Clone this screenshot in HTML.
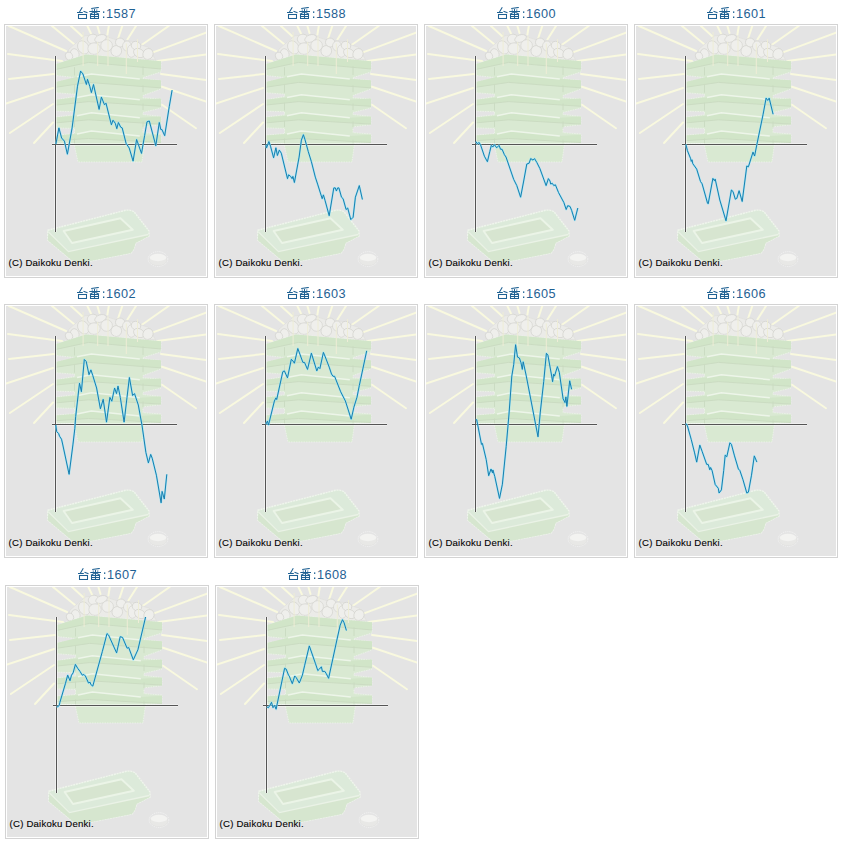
<!DOCTYPE html>
<html><head><meta charset="utf-8"><style>
html,body{margin:0;padding:0;background:#fff;width:842px;height:843px;overflow:hidden;position:relative}
.cell{position:absolute;width:202px;height:252px;border:1px solid #d3d3d3;background:#fff}
.cell svg{position:absolute;left:1px;top:1px;display:block}
.cp{font-family:"Liberation Sans",sans-serif;font-size:9.6px;fill:#000;stroke:#000;stroke-width:0.1px}
.lbl{position:absolute;height:14px;width:70px;font-family:"Liberation Sans",sans-serif;font-size:12.7px;color:#1f6193;line-height:14px;white-space:nowrap}
.lbl svg{position:absolute;left:0;top:0}
.lbl span{position:absolute;left:29px;top:-0.5px;letter-spacing:0.45px}
</style></head><body>
<svg width="0" height="0" style="position:absolute"><symbol id="bg" viewBox="0 0 200 250">
<rect width="200" height="250" fill="#e4e4e4"/>
<g stroke="#f9f9df" stroke-width="2" stroke-linecap="round"><line x1="3" y1="0" x2="60" y2="25"/><line x1="2" y1="28" x2="56" y2="35"/><line x1="3" y1="53" x2="48" y2="48"/><line x1="0" y1="77.5" x2="47" y2="62"/><line x1="3.8" y1="107" x2="47" y2="78"/><line x1="28" y1="117" x2="47" y2="96.5"/><line x1="46" y1="0" x2="68" y2="18"/><line x1="65" y1="0" x2="76" y2="10"/><line x1="81.4" y1="0" x2="85.7" y2="9"/><line x1="91.4" y1="0" x2="93.5" y2="7"/><line x1="102.8" y1="0" x2="101.4" y2="8.5"/><line x1="116.3" y1="0" x2="112" y2="12.8"/><line x1="130" y1="0" x2="121.4" y2="13.5"/><line x1="162.7" y1="0" x2="135.6" y2="19"/><line x1="200" y1="6.6" x2="147" y2="26.4"/><line x1="200" y1="28.5" x2="151.4" y2="35"/><line x1="200" y1="54" x2="155" y2="48"/><line x1="200" y1="75.6" x2="156" y2="60.7"/><line x1="190" y1="102.3" x2="156" y2="78.8"/></g>
<path d="M59.7,33 L60,31.4 L63,23 L68.8,18.1 L78.8,9.8 L87,9 L96.2,9 L108,13.1 L114,14.7 L125.9,15.3 L136.6,19.4 L142.5,21.2 L145.5,26.6 L149.6,33.7 Z" fill="#ebebe8" stroke="#e0e0dc" stroke-width="0.8"/>
<g fill="#efefec" stroke="#d0d0cb" stroke-width="0.6"><ellipse cx="68.8" cy="27.9" rx="4.2" ry="5.3" transform="rotate(-20 68.8 27.9)"/><ellipse cx="77.3" cy="21.4" rx="5.3" ry="7" transform="rotate(-30 77.3 21.4)"/><ellipse cx="86.6" cy="13" rx="5.3" ry="4.8" transform="rotate(-10 86.6 13)"/><ellipse cx="88" cy="22.6" rx="6.2" ry="5.8" transform="rotate(0 88 22.6)"/><ellipse cx="94.5" cy="12.5" rx="6" ry="3.6" transform="rotate(-20 94.5 12.5)"/><ellipse cx="100.6" cy="19.5" rx="5.8" ry="5.8" transform="rotate(0 100.6 19.5)"/><ellipse cx="110.3" cy="25" rx="5.3" ry="5.5" transform="rotate(20 110.3 25)"/><ellipse cx="114.2" cy="16.5" rx="4.8" ry="4.4" transform="rotate(20 114.2 16.5)"/><ellipse cx="121" cy="20" rx="4.5" ry="5" transform="rotate(0 121 20)"/><ellipse cx="125.4" cy="25" rx="4.2" ry="6.3" transform="rotate(0 125.4 25)"/><ellipse cx="130" cy="19.6" rx="4.8" ry="4.2" transform="rotate(20 130 19.6)"/><ellipse cx="133" cy="27" rx="5.8" ry="4.2" transform="rotate(30 133 27)"/><ellipse cx="142" cy="28" rx="5" ry="5.6" transform="rotate(30 142 28)"/><ellipse cx="63" cy="30" rx="3.5" ry="4" transform="rotate(-20 63 30)"/></g>
<path d="M49.5,38.2 L80,28.5 L155,35.3 L155,46 L137,51.6 L137,52.5 L155,54.6 L155,62.9 L137,69.6 L137,71.8 L155,72.8 L155,82.1 L137,86.4 L137,88.5 L155,90.4 L155,98.7 L137,100.9 L137,106.6 L155,108 L155,116.5 L138.5,117.5 L136,136 L72,136 L68,117.5 L49.5,117.7 L49.5,109.2 L68.5,107.6 L68.5,102.4 L49.5,101.9 L49.5,90.9 L68.5,88.8 L68.5,85.7 L49.5,85.1 L49.5,73.8 L68.5,70.5 L68.5,68.2 L49.5,66.7 L49.5,56 L68.5,52.5 L68.5,51.5 L49.5,49.5 Z" fill="#d9e9d2" stroke="#eef4eb" stroke-width="0.8" stroke-dasharray="1.5 1"/>
<g fill="#d1e5c8"><polygon points="49.5,38.2 80,28.5 155,35.3 155,43.0 82.5,36.4 49.5,43.5"/><polygon points="49.5,56 71,50.8 85.3,47.9 133.8,52.9 155,54.2 155,61.9 82.5,56.4 49.5,61.3"/><polygon points="49.5,73.8 71,71.6 85.3,68.7 133.8,73.7 155,72.6 155,80.3 82.5,75.6 49.5,79.1"/><polygon points="49.5,91.6 71,89.7 85.3,86.8 133.8,91.8 155,90.4 155,98.1 82.5,93.8 49.5,96.9"/><polygon points="49.5,109.4 71,107.9 85.3,105 133.8,110 155,108.8 155,116.5 82.5,112.5 49.5,114.7"/></g>
<g fill="none" stroke="#c9dac1" stroke-width="0.9"><polyline points="49.5,43.5 82.5,36.4 155,43.0"/><line x1="68.5" y1="41.2" x2="68.5" y2="49.5"/><line x1="137" y1="40.3" x2="137" y2="49"/><polyline points="49.5,61.3 82.5,56.4 155,61.9"/><line x1="68.5" y1="59" x2="68.5" y2="66.7"/><line x1="137" y1="59.2" x2="137" y2="66.1"/><polyline points="49.5,79.1 82.5,75.6 155,80.3"/><line x1="68.5" y1="76.8" x2="68.5" y2="84.5"/><line x1="137" y1="77.6" x2="137" y2="84"/><polyline points="49.5,96.9 82.5,93.8 155,98.1"/><line x1="68.5" y1="94.6" x2="68.5" y2="101"/><line x1="137" y1="95.4" x2="137" y2="101.7"/><polyline points="49.5,114.7 82.5,112.5 155,116.5"/><line x1="68.5" y1="112.4" x2="68.5" y2="117.7"/><line x1="137" y1="113.8" x2="137" y2="119.5"/></g>
<g fill="none" stroke="#edf5e9" stroke-width="1.5"><polyline points="71,50.8 85.3,47.9 133.8,52.9"/><polyline points="71,71.6 85.3,68.7 133.8,73.7"/><polyline points="71,89.7 85.3,86.8 133.8,91.8"/><polyline points="71,107.9 85.3,105 133.8,110"/></g>
<g stroke="#eeedd6" stroke-width="1"><line x1="77.1" y1="6" x2="77.1" y2="40"/><line x1="91.7" y1="16" x2="91.7" y2="40"/><line x1="102" y1="10" x2="102" y2="40"/><line x1="120.3" y1="17.5" x2="120.3" y2="48"/><line x1="131.5" y1="13" x2="131.5" y2="36"/></g>
<path d="M41.8,204.2 L119.5,184.3 Q124,183.5 128,185.7 L143,205 L143,210 L129.5,217 L128,222.8 L125,227 L74,237 L65.4,234 L41.8,214.2 Z" fill="#dceada" stroke="#eff5ec" stroke-width="1.4" stroke-dasharray="2 0.8"/>
<polygon points="57.6,205 114.5,192.3 126.8,203.8 66,217" fill="#d7e5d0" stroke="#ebf4e7" stroke-width="1.9" stroke-linejoin="round"/>
<polygon points="42.5,206 62.5,225.6 142.3,208.5 143,210 129.5,217 128,222.8 125,227 74,237 65.4,234 41.8,214.2" fill="#d6e6cf"/><polyline points="42.5,206 62.5,225.6 142.3,208.5" fill="none" stroke="#eaf2e6" stroke-width="1.3"/>

<ellipse cx="152" cy="233" rx="9.8" ry="7.4" fill="none" stroke="#f3f3f3" stroke-width="0.9" stroke-dasharray="1.3 0.9"/><ellipse cx="152" cy="234.3" rx="8.8" ry="5.3" fill="#e8e8e6" stroke="#e0e0de" stroke-width="0.5"/><ellipse cx="152" cy="231.5" rx="8.3" ry="3.7" fill="#f3f3f1"/>
</symbol><symbol id="kj" viewBox="0 0 28 12">
<g fill="none" stroke="#1f6193" stroke-width="1.05">
<path d="M5.3,0.3 L2.2,5.5 M0,5.5 H5.8 M6.5,4.2 L10.5,5.8"/>
<rect x="1.5" y="7.5" width="8" height="4"/>
<path d="M14.2,1.5 L21.8,0.4 M12.3,4.5 H23 M14.8,2.6 L15.6,3.5 M20.2,2.6 L19.4,3.5 M17.5,1.2 V7 M17.5,4.6 L13,7.2 M17.5,4.6 L22,7.2"/>
<rect x="13.5" y="7.5" width="8" height="4"/>
<path d="M13.5,9.5 H21.5 M17.5,7.5 V11.5"/>
</g>
<g fill="#1f6193"><rect x="26" y="4.4" width="1.3" height="1.5"/><rect x="26" y="9.5" width="1.3" height="1.5"/></g>
</symbol></svg>
<div class="cell" style="left:4px;top:24px"><svg width="200" height="250" viewBox="0 0 200 250">
<use href="#bg"/>
<g stroke="#fff" stroke-opacity="0.45" stroke-width="3"><line x1="49.5" y1="30" x2="49.5" y2="206"/><line x1="46" y1="118.5" x2="171" y2="118.5"/></g>
<g stroke="#555" stroke-width="1"><line x1="49.5" y1="30" x2="49.5" y2="206"/><line x1="46" y1="118.5" x2="171" y2="118.5"/></g>
<polyline points="49.9,118.1 52.9,101.9 55.6,112.0 58.4,115.1 61.4,128.2 66.1,101.9 71.5,60.2 74.6,45.1 76.9,47.9 80.4,58.5 81.5,53.3 83.8,60.4 85.4,66.6 87.5,58.5 93.1,83.4 95.4,71.1 98.5,78.8 100.0,77.2 105.4,98.8 107.0,94.2 109.3,97.3 110.8,102.7 112.4,96.5 114.7,101.2 116.2,101.9 120.1,117.4 123.2,122.0 127.1,135.1 130.6,113.5 135.5,127.4 138.6,109.7 141.0,95.8 143.3,95.0 149.8,119.7 153.3,96.5 154.8,103.5 155.9,103.5 158.7,109.7 163.3,80.3 166.1,64.1" fill="none" stroke="#8fe6fc" stroke-opacity="0.75" stroke-width="2" stroke-linejoin="round"/>
<polyline points="49.9,118.1 52.9,101.9 55.6,112.0 58.4,115.1 61.4,128.2 66.1,101.9 71.5,60.2 74.6,45.1 76.9,47.9 80.4,58.5 81.5,53.3 83.8,60.4 85.4,66.6 87.5,58.5 93.1,83.4 95.4,71.1 98.5,78.8 100.0,77.2 105.4,98.8 107.0,94.2 109.3,97.3 110.8,102.7 112.4,96.5 114.7,101.2 116.2,101.9 120.1,117.4 123.2,122.0 127.1,135.1 130.6,113.5 135.5,127.4 138.6,109.7 141.0,95.8 143.3,95.0 149.8,119.7 153.3,96.5 154.8,103.5 155.9,103.5 158.7,109.7 163.3,80.3 166.1,64.1" fill="none" stroke="#187eae" stroke-width="1" stroke-linejoin="round"/>
<text x="2.6" y="239.7" class="cp" textLength="84" lengthAdjust="spacing">(C) Daikoku Denki.</text>
</svg></div>
<div class="lbl" style="left:77px;top:7px"><svg width="28" height="12" viewBox="0 0 28 12"><use href="#kj"/></svg><span>1587</span></div>
<div class="cell" style="left:214px;top:24px"><svg width="200" height="250" viewBox="0 0 200 250">
<use href="#bg"/>
<g stroke="#fff" stroke-opacity="0.45" stroke-width="3"><line x1="49.5" y1="30" x2="49.5" y2="206"/><line x1="46" y1="118.5" x2="171" y2="118.5"/></g>
<g stroke="#555" stroke-width="1"><line x1="49.5" y1="30" x2="49.5" y2="206"/><line x1="46" y1="118.5" x2="171" y2="118.5"/></g>
<polyline points="49.9,118.7 50.6,121.8 52.9,115.6 54.5,120.2 57.6,131.8 59.9,121.8 61.4,129.5 63.3,124.1 65.3,127.2 71.5,152.7 72.6,148.8 74.6,150.4 76.1,152.7 76.9,150.4 78.4,156.5 83.1,131.1 85.4,114.1 87.4,108.7 88.9,113.3 92.3,125.7 95.4,135.7 99.3,151.1 101.6,158.1 106.2,172.7 107.4,168.9 109.0,174.3 113.2,189.7 117.8,161.9 119.3,161.9 120.4,165.0 121.7,161.9 122.9,161.9 125.5,171.2 127.1,172.7 130.1,183.5 131.7,182.0 134.8,193.6 137.1,191.3 139.4,171.2 143.3,159.6 146.4,173.5" fill="none" stroke="#8fe6fc" stroke-opacity="0.75" stroke-width="2" stroke-linejoin="round"/>
<polyline points="49.9,118.7 50.6,121.8 52.9,115.6 54.5,120.2 57.6,131.8 59.9,121.8 61.4,129.5 63.3,124.1 65.3,127.2 71.5,152.7 72.6,148.8 74.6,150.4 76.1,152.7 76.9,150.4 78.4,156.5 83.1,131.1 85.4,114.1 87.4,108.7 88.9,113.3 92.3,125.7 95.4,135.7 99.3,151.1 101.6,158.1 106.2,172.7 107.4,168.9 109.0,174.3 113.2,189.7 117.8,161.9 119.3,161.9 120.4,165.0 121.7,161.9 122.9,161.9 125.5,171.2 127.1,172.7 130.1,183.5 131.7,182.0 134.8,193.6 137.1,191.3 139.4,171.2 143.3,159.6 146.4,173.5" fill="none" stroke="#187eae" stroke-width="1" stroke-linejoin="round"/>
<text x="2.6" y="239.7" class="cp" textLength="84" lengthAdjust="spacing">(C) Daikoku Denki.</text>
</svg></div>
<div class="lbl" style="left:287px;top:7px"><svg width="28" height="12" viewBox="0 0 28 12"><use href="#kj"/></svg><span>1588</span></div>
<div class="cell" style="left:424px;top:24px"><svg width="200" height="250" viewBox="0 0 200 250">
<use href="#bg"/>
<g stroke="#fff" stroke-opacity="0.45" stroke-width="3"><line x1="49.5" y1="30" x2="49.5" y2="206"/><line x1="46" y1="118.5" x2="171" y2="118.5"/></g>
<g stroke="#555" stroke-width="1"><line x1="49.5" y1="30" x2="49.5" y2="206"/><line x1="46" y1="118.5" x2="171" y2="118.5"/></g>
<polyline points="49.9,115.6 51.4,117.9 52.9,116.4 54.5,118.7 58.4,130.2 61.4,135.7 63.8,125.6 65.3,119.4 66.8,121.0 68.4,118.7 70.7,121.8 73.0,119.4 74.6,123.3 76.1,123.3 78.4,128.7 80.0,131.0 87.7,153.4 90.8,159.6 94.6,171.2 97.7,155.0 100.8,138.0 103.1,137.2 104.7,132.6 107.0,134.1 108.5,132.6 110.8,136.4 113.9,142.6 120.1,159.6 122.4,152.6 124.0,155.0 124.7,158.0 126.3,157.3 127.8,159.6 129.4,158.8 132.5,166.5 137.9,176.6 140.2,183.5 141.7,179.7 144.0,180.4 145.6,184.3 148.7,194.3 151.8,182.0" fill="none" stroke="#8fe6fc" stroke-opacity="0.75" stroke-width="2" stroke-linejoin="round"/>
<polyline points="49.9,115.6 51.4,117.9 52.9,116.4 54.5,118.7 58.4,130.2 61.4,135.7 63.8,125.6 65.3,119.4 66.8,121.0 68.4,118.7 70.7,121.8 73.0,119.4 74.6,123.3 76.1,123.3 78.4,128.7 80.0,131.0 87.7,153.4 90.8,159.6 94.6,171.2 97.7,155.0 100.8,138.0 103.1,137.2 104.7,132.6 107.0,134.1 108.5,132.6 110.8,136.4 113.9,142.6 120.1,159.6 122.4,152.6 124.0,155.0 124.7,158.0 126.3,157.3 127.8,159.6 129.4,158.8 132.5,166.5 137.9,176.6 140.2,183.5 141.7,179.7 144.0,180.4 145.6,184.3 148.7,194.3 151.8,182.0" fill="none" stroke="#187eae" stroke-width="1" stroke-linejoin="round"/>
<text x="2.6" y="239.7" class="cp" textLength="84" lengthAdjust="spacing">(C) Daikoku Denki.</text>
</svg></div>
<div class="lbl" style="left:497px;top:7px"><svg width="28" height="12" viewBox="0 0 28 12"><use href="#kj"/></svg><span>1600</span></div>
<div class="cell" style="left:634px;top:24px"><svg width="200" height="250" viewBox="0 0 200 250">
<use href="#bg"/>
<g stroke="#fff" stroke-opacity="0.45" stroke-width="3"><line x1="49.5" y1="30" x2="49.5" y2="206"/><line x1="46" y1="118.5" x2="171" y2="118.5"/></g>
<g stroke="#555" stroke-width="1"><line x1="49.5" y1="30" x2="49.5" y2="206"/><line x1="46" y1="118.5" x2="171" y2="118.5"/></g>
<polyline points="49.9,118.4 51.4,124.6 54.5,132.3 55.3,135.4 56.0,133.8 56.8,137.7 60.7,143.1 64.5,155.5 66.1,157.8 71.5,177.1 72.2,177.8 76.9,152.4 78.4,154.7 79.2,153.1 83.8,174.0 90.0,194.8 95.4,164.0 97.0,165.5 99.3,173.2 100.8,172.4 103.1,164.7 106.2,175.5 110.8,140.0 112.4,140.8 117.0,126.1 118.6,130.0 120.9,118.4 127.1,88.3 130.1,72.1 131.7,74.4 133.2,72.1 137.1,88.3" fill="none" stroke="#8fe6fc" stroke-opacity="0.75" stroke-width="2" stroke-linejoin="round"/>
<polyline points="49.9,118.4 51.4,124.6 54.5,132.3 55.3,135.4 56.0,133.8 56.8,137.7 60.7,143.1 64.5,155.5 66.1,157.8 71.5,177.1 72.2,177.8 76.9,152.4 78.4,154.7 79.2,153.1 83.8,174.0 90.0,194.8 95.4,164.0 97.0,165.5 99.3,173.2 100.8,172.4 103.1,164.7 106.2,175.5 110.8,140.0 112.4,140.8 117.0,126.1 118.6,130.0 120.9,118.4 127.1,88.3 130.1,72.1 131.7,74.4 133.2,72.1 137.1,88.3" fill="none" stroke="#187eae" stroke-width="1" stroke-linejoin="round"/>
<text x="2.6" y="239.7" class="cp" textLength="84" lengthAdjust="spacing">(C) Daikoku Denki.</text>
</svg></div>
<div class="lbl" style="left:707px;top:7px"><svg width="28" height="12" viewBox="0 0 28 12"><use href="#kj"/></svg><span>1601</span></div>
<div class="cell" style="left:4px;top:304px"><svg width="200" height="250" viewBox="0 0 200 250">
<use href="#bg"/>
<g stroke="#fff" stroke-opacity="0.45" stroke-width="3"><line x1="49.5" y1="30" x2="49.5" y2="206"/><line x1="46" y1="118.5" x2="171" y2="118.5"/></g>
<g stroke="#555" stroke-width="1"><line x1="49.5" y1="30" x2="49.5" y2="206"/><line x1="46" y1="118.5" x2="171" y2="118.5"/></g>
<polyline points="49.8,119.0 50.7,125.6 52.6,127.5 53.6,130.3 55.5,133.2 56.4,137.0 63.1,168.3 66.9,138.9 68.8,122.7 69.7,110.4 73.5,77.2 75.4,85.7 78.3,53.5 80.2,55.4 83.0,68.7 84.9,63.9 86.8,69.6 90.6,82.0 94.4,102.8 97.2,93.3 100.5,116.1 103.9,91.4 105.8,95.2 108.6,82.0 110.5,87.6 112.0,80.1 114.3,91.4 118.1,116.1 121.0,91.4 123.4,71.5 126.6,89.5 128.5,87.6 132.3,99.0 136.1,119.9 139.9,146.5 142.4,156.9 144.7,148.4 146.2,152.2 150.4,169.2 155.1,196.8 156.1,185.4 158.3,193.0 160.8,168.3" fill="none" stroke="#8fe6fc" stroke-opacity="0.75" stroke-width="2" stroke-linejoin="round"/>
<polyline points="49.8,119.0 50.7,125.6 52.6,127.5 53.6,130.3 55.5,133.2 56.4,137.0 63.1,168.3 66.9,138.9 68.8,122.7 69.7,110.4 73.5,77.2 75.4,85.7 78.3,53.5 80.2,55.4 83.0,68.7 84.9,63.9 86.8,69.6 90.6,82.0 94.4,102.8 97.2,93.3 100.5,116.1 103.9,91.4 105.8,95.2 108.6,82.0 110.5,87.6 112.0,80.1 114.3,91.4 118.1,116.1 121.0,91.4 123.4,71.5 126.6,89.5 128.5,87.6 132.3,99.0 136.1,119.9 139.9,146.5 142.4,156.9 144.7,148.4 146.2,152.2 150.4,169.2 155.1,196.8 156.1,185.4 158.3,193.0 160.8,168.3" fill="none" stroke="#187eae" stroke-width="1" stroke-linejoin="round"/>
<text x="2.6" y="239.7" class="cp" textLength="84" lengthAdjust="spacing">(C) Daikoku Denki.</text>
</svg></div>
<div class="lbl" style="left:77px;top:287px"><svg width="28" height="12" viewBox="0 0 28 12"><use href="#kj"/></svg><span>1602</span></div>
<div class="cell" style="left:214px;top:304px"><svg width="200" height="250" viewBox="0 0 200 250">
<use href="#bg"/>
<g stroke="#fff" stroke-opacity="0.45" stroke-width="3"><line x1="49.5" y1="30" x2="49.5" y2="206"/><line x1="46" y1="118.5" x2="171" y2="118.5"/></g>
<g stroke="#555" stroke-width="1"><line x1="49.5" y1="30" x2="49.5" y2="206"/><line x1="46" y1="118.5" x2="171" y2="118.5"/></g>
<polyline points="49.9,118.2 51.4,115.1 52.5,119.0 58.4,95.0 59.9,91.9 60.7,93.5 66.8,65.7 68.4,64.9 71.5,71.9 75.3,53.3 76.9,54.9 78.4,57.2 81.8,42.5 86.9,56.4 88.5,56.4 91.5,63.4 95.4,47.2 100.8,64.9 102.4,61.1 103.9,62.6 107.4,46.4 109.3,51.0 113.2,61.1 115.5,68.0 117.0,70.3 118.6,70.3 124.7,85.8 129.4,95.0 135.2,113.2 137.9,101.2 141.0,91.2 143.3,79.6 150.7,44.8" fill="none" stroke="#8fe6fc" stroke-opacity="0.75" stroke-width="2" stroke-linejoin="round"/>
<polyline points="49.9,118.2 51.4,115.1 52.5,119.0 58.4,95.0 59.9,91.9 60.7,93.5 66.8,65.7 68.4,64.9 71.5,71.9 75.3,53.3 76.9,54.9 78.4,57.2 81.8,42.5 86.9,56.4 88.5,56.4 91.5,63.4 95.4,47.2 100.8,64.9 102.4,61.1 103.9,62.6 107.4,46.4 109.3,51.0 113.2,61.1 115.5,68.0 117.0,70.3 118.6,70.3 124.7,85.8 129.4,95.0 135.2,113.2 137.9,101.2 141.0,91.2 143.3,79.6 150.7,44.8" fill="none" stroke="#187eae" stroke-width="1" stroke-linejoin="round"/>
<text x="2.6" y="239.7" class="cp" textLength="84" lengthAdjust="spacing">(C) Daikoku Denki.</text>
</svg></div>
<div class="lbl" style="left:287px;top:287px"><svg width="28" height="12" viewBox="0 0 28 12"><use href="#kj"/></svg><span>1603</span></div>
<div class="cell" style="left:424px;top:304px"><svg width="200" height="250" viewBox="0 0 200 250">
<use href="#bg"/>
<g stroke="#fff" stroke-opacity="0.45" stroke-width="3"><line x1="49.5" y1="30" x2="49.5" y2="206"/><line x1="46" y1="118.5" x2="171" y2="118.5"/></g>
<g stroke="#555" stroke-width="1"><line x1="49.5" y1="30" x2="49.5" y2="206"/><line x1="46" y1="118.5" x2="171" y2="118.5"/></g>
<polyline points="49.8,113.7 50.7,113.7 55.5,138.4 56.4,137.4 60.2,153.5 62.7,169.7 65.0,163.0 66.5,166.8 66.9,164.0 68.8,170.6 73.5,192.4 76.4,178.2 80.2,140.3 83.0,108.0 85.8,70.1 87.7,58.7 89.6,38.7 91.5,51.1 93.4,52.0 95.0,56.8 96.3,63.4 97.2,55.8 100.1,69.1 112.0,130.8 114.3,106.1 117.7,75.7 120.4,47.3 121.9,49.2 125.7,70.1 126.6,75.7 127.6,68.2 128.5,70.1 131.4,60.6 133.3,66.3 137.1,92.8 139.0,96.6 139.9,90.9 140.9,100.4 143.7,74.8 145.6,83.3" fill="none" stroke="#8fe6fc" stroke-opacity="0.75" stroke-width="2" stroke-linejoin="round"/>
<polyline points="49.8,113.7 50.7,113.7 55.5,138.4 56.4,137.4 60.2,153.5 62.7,169.7 65.0,163.0 66.5,166.8 66.9,164.0 68.8,170.6 73.5,192.4 76.4,178.2 80.2,140.3 83.0,108.0 85.8,70.1 87.7,58.7 89.6,38.7 91.5,51.1 93.4,52.0 95.0,56.8 96.3,63.4 97.2,55.8 100.1,69.1 112.0,130.8 114.3,106.1 117.7,75.7 120.4,47.3 121.9,49.2 125.7,70.1 126.6,75.7 127.6,68.2 128.5,70.1 131.4,60.6 133.3,66.3 137.1,92.8 139.0,96.6 139.9,90.9 140.9,100.4 143.7,74.8 145.6,83.3" fill="none" stroke="#187eae" stroke-width="1" stroke-linejoin="round"/>
<text x="2.6" y="239.7" class="cp" textLength="84" lengthAdjust="spacing">(C) Daikoku Denki.</text>
</svg></div>
<div class="lbl" style="left:497px;top:287px"><svg width="28" height="12" viewBox="0 0 28 12"><use href="#kj"/></svg><span>1605</span></div>
<div class="cell" style="left:634px;top:304px"><svg width="200" height="250" viewBox="0 0 200 250">
<use href="#bg"/>
<g stroke="#fff" stroke-opacity="0.45" stroke-width="3"><line x1="49.5" y1="30" x2="49.5" y2="206"/><line x1="46" y1="118.5" x2="171" y2="118.5"/></g>
<g stroke="#555" stroke-width="1"><line x1="49.5" y1="30" x2="49.5" y2="206"/><line x1="46" y1="118.5" x2="171" y2="118.5"/></g>
<polyline points="49.9,117.5 51.4,119.8 55.3,133.7 58.4,146.1 60.7,156.1 63.8,139.1 66.1,145.3 70.7,158.4 72.2,158.4 73.8,163.8 74.6,161.5 76.1,164.6 79.2,178.5 82.3,182.3 83.1,187.0 85.4,183.9 87.7,164.6 89.2,149.1 90.8,150.7 93.9,136.8 95.4,138.3 98.5,149.9 102.4,163.0 103.9,164.6 107.0,173.8 110.8,187.0 112.4,186.2 115.5,169.2 118.3,149.9 120.9,156.1" fill="none" stroke="#8fe6fc" stroke-opacity="0.75" stroke-width="2" stroke-linejoin="round"/>
<polyline points="49.9,117.5 51.4,119.8 55.3,133.7 58.4,146.1 60.7,156.1 63.8,139.1 66.1,145.3 70.7,158.4 72.2,158.4 73.8,163.8 74.6,161.5 76.1,164.6 79.2,178.5 82.3,182.3 83.1,187.0 85.4,183.9 87.7,164.6 89.2,149.1 90.8,150.7 93.9,136.8 95.4,138.3 98.5,149.9 102.4,163.0 103.9,164.6 107.0,173.8 110.8,187.0 112.4,186.2 115.5,169.2 118.3,149.9 120.9,156.1" fill="none" stroke="#187eae" stroke-width="1" stroke-linejoin="round"/>
<text x="2.6" y="239.7" class="cp" textLength="84" lengthAdjust="spacing">(C) Daikoku Denki.</text>
</svg></div>
<div class="lbl" style="left:707px;top:287px"><svg width="28" height="12" viewBox="0 0 28 12"><use href="#kj"/></svg><span>1606</span></div>
<div class="cell" style="left:5px;top:585px"><svg width="200" height="250" viewBox="0 0 200 250">
<use href="#bg"/>
<g stroke="#fff" stroke-opacity="0.45" stroke-width="3"><line x1="49.5" y1="30" x2="49.5" y2="206"/><line x1="46" y1="118.5" x2="171" y2="118.5"/></g>
<g stroke="#555" stroke-width="1"><line x1="49.5" y1="30" x2="49.5" y2="206"/><line x1="46" y1="118.5" x2="171" y2="118.5"/></g>
<polyline points="49.9,119.1 50.6,119.9 52.2,118.4 52.9,115.3 58.4,96.7 60.7,88.2 63.0,93.7 64.5,88.2 66.1,85.9 68.4,77.4 70.7,81.3 73.0,84.4 75.3,88.2 76.9,87.5 78.4,89.0 81.5,96.0 83.1,95.2 83.8,97.5 85.8,99.1 95.4,64.3 100.0,46.6 101.6,48.1 109.6,65.9 113.2,49.7 115.5,50.4 120.1,61.2 121.7,60.5 126.3,72.8 130.9,62.8 138.6,30.0" fill="none" stroke="#8fe6fc" stroke-opacity="0.75" stroke-width="2" stroke-linejoin="round"/>
<polyline points="49.9,119.1 50.6,119.9 52.2,118.4 52.9,115.3 58.4,96.7 60.7,88.2 63.0,93.7 64.5,88.2 66.1,85.9 68.4,77.4 70.7,81.3 73.0,84.4 75.3,88.2 76.9,87.5 78.4,89.0 81.5,96.0 83.1,95.2 83.8,97.5 85.8,99.1 95.4,64.3 100.0,46.6 101.6,48.1 109.6,65.9 113.2,49.7 115.5,50.4 120.1,61.2 121.7,60.5 126.3,72.8 130.9,62.8 138.6,30.0" fill="none" stroke="#187eae" stroke-width="1" stroke-linejoin="round"/>
<text x="2.6" y="239.7" class="cp" textLength="84" lengthAdjust="spacing">(C) Daikoku Denki.</text>
</svg></div>
<div class="lbl" style="left:78px;top:568px"><svg width="28" height="12" viewBox="0 0 28 12"><use href="#kj"/></svg><span>1607</span></div>
<div class="cell" style="left:215px;top:585px"><svg width="200" height="250" viewBox="0 0 200 250">
<use href="#bg"/>
<g stroke="#fff" stroke-opacity="0.45" stroke-width="3"><line x1="49.5" y1="30" x2="49.5" y2="206"/><line x1="46" y1="118.5" x2="171" y2="118.5"/></g>
<g stroke="#555" stroke-width="1"><line x1="49.5" y1="30" x2="49.5" y2="206"/><line x1="46" y1="118.5" x2="171" y2="118.5"/></g>
<polyline points="49.9,119.9 51.4,120.7 52.9,118.4 54.5,115.3 56.0,120.7 57.6,118.4 59.1,122.2 67.6,81.3 69.2,82.1 71.5,88.2 72.2,89.0 75.3,96.7 77.7,89.0 79.2,90.6 82.3,96.0 85.4,88.2 87.7,78.2 92.3,58.9 98.5,76.7 100.8,83.6 102.4,82.1 104.4,79.8 105.4,84.4 107.8,84.4 109.3,86.7 111.6,91.3 120.1,52.0 123.2,38.1 125.5,32.7 127.1,35.8 129.4,43.5" fill="none" stroke="#8fe6fc" stroke-opacity="0.75" stroke-width="2" stroke-linejoin="round"/>
<polyline points="49.9,119.9 51.4,120.7 52.9,118.4 54.5,115.3 56.0,120.7 57.6,118.4 59.1,122.2 67.6,81.3 69.2,82.1 71.5,88.2 72.2,89.0 75.3,96.7 77.7,89.0 79.2,90.6 82.3,96.0 85.4,88.2 87.7,78.2 92.3,58.9 98.5,76.7 100.8,83.6 102.4,82.1 104.4,79.8 105.4,84.4 107.8,84.4 109.3,86.7 111.6,91.3 120.1,52.0 123.2,38.1 125.5,32.7 127.1,35.8 129.4,43.5" fill="none" stroke="#187eae" stroke-width="1" stroke-linejoin="round"/>
<text x="2.6" y="239.7" class="cp" textLength="84" lengthAdjust="spacing">(C) Daikoku Denki.</text>
</svg></div>
<div class="lbl" style="left:288px;top:568px"><svg width="28" height="12" viewBox="0 0 28 12"><use href="#kj"/></svg><span>1608</span></div>

</body></html>
